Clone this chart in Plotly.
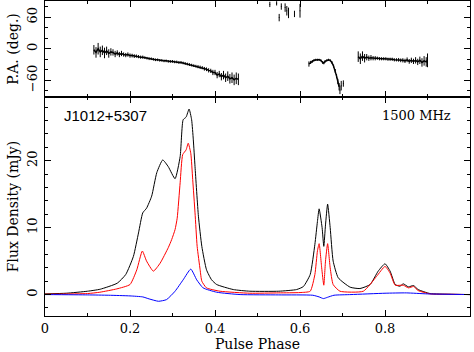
import plotly.graph_objects as go

# ---------------- Flux density profiles (mJy) ----------------
phase_I = [0.0, 0.05, 0.1, 0.13, 0.17, 0.19, 0.208, 0.22, 0.23, 0.239, 0.251, 0.263, 0.277,
           0.29, 0.306, 0.318, 0.325, 0.332, 0.339, 0.345, 0.349, 0.353, 0.361, 0.369, 0.38,
           0.392, 0.404, 0.443, 0.482, 0.55, 0.592, 0.608, 0.624, 0.635, 0.641, 0.645, 0.652,
           0.656, 0.660, 0.665, 0.671, 0.678, 0.69, 0.718, 0.741, 0.765, 0.784, 0.8, 0.812,
           0.824, 0.835, 0.843, 0.855, 0.867, 0.878, 0.906, 0.95, 1.0]
flux_I = [0.1, 0.2, 0.5, 0.8, 1.7, 3.0, 5.7, 9.2, 12.2, 12.9, 14.7, 18.2, 20.1,
          19.1, 17.3, 20.6, 26.1, 26.5, 27.7, 26.1, 23.1, 19.1, 11.7, 7.2, 3.7,
          2.2, 1.5, 0.75, 0.5, 0.5, 0.75, 1.2, 3.0, 7.5, 10.9, 12.8, 10.0,
          7.2, 10.4, 13.5, 10.0, 5.0, 2.5, 1.1, 0.9, 1.5, 3.5, 4.6, 3.5,
          1.5, 1.25, 1.6, 1.15, 1.35, 0.75, 0.15, 0.05, 0.0]

phase_L = [0.0, 0.1, 0.129, 0.169, 0.2, 0.216, 0.229, 0.239, 0.255, 0.271, 0.29, 0.298,
           0.306, 0.311, 0.318, 0.324, 0.332, 0.337, 0.343, 0.3475, 0.353, 0.358, 0.365,
           0.369, 0.38, 0.412, 0.482, 0.55, 0.6, 0.624, 0.635, 0.641, 0.645, 0.651, 0.656,
           0.660, 0.665, 0.671, 0.678, 0.694, 0.749, 0.78, 0.8, 0.812, 0.824, 0.843, 0.855,
           0.867, 0.878, 0.906, 0.95, 1.0]
flux_L = [0.05, 0.15, 0.35, 0.85, 1.5, 3.7, 6.5, 5.0, 3.5, 4.7, 7.0, 8.2,
          9.7, 11.4, 16.7, 20.9, 21.6, 22.6, 21.1, 17.2, 12.2, 7.2, 3.7,
          2.0, 1.0, 0.5, 0.2, 0.25, 0.3, 0.5, 3.0, 6.5, 7.6, 4.0, 1.4,
          5.0, 7.6, 4.0, 1.5, 0.5, 0.5, 2.7, 4.2, 3.2, 1.4, 1.4, 1.0,
          1.2, 0.6, 0.1, 0.05, 0.0]

phase_V = [0.0, 0.1, 0.15, 0.2, 0.23, 0.245, 0.267, 0.286, 0.306, 0.325, 0.343, 0.357,
           0.372, 0.404, 0.459, 0.55, 0.63, 0.645, 0.655, 0.665, 0.68, 0.72, 0.8, 0.85,
           0.9, 1.0]
flux_V = [0.0, -0.05, -0.1, -0.2, -0.35, -0.65, -1.0, -0.75, 0.5, 2.2, 3.8, 2.2,
          1.0, 0.35, 0.0, -0.05, -0.1, -0.35, -0.6, -0.4, -0.1, 0.0, 0.2, 0.25,
          0.1, 0.0]

# ---------------- Position angle (deg) ----------------
pa_phase_1 = [0.115, 0.12, 0.125, 0.13, 0.135, 0.14, 0.145, 0.15, 0.155, 0.16, 0.165, 0.17,
              0.175, 0.18, 0.185, 0.19, 0.195, 0.2, 0.205, 0.21, 0.215, 0.22, 0.225, 0.23,
              0.235, 0.24, 0.245, 0.25, 0.255, 0.26, 0.265, 0.27, 0.275, 0.28, 0.285, 0.29,
              0.295, 0.3, 0.305, 0.31, 0.315, 0.32, 0.325, 0.33, 0.335, 0.34, 0.345, 0.35,
              0.355, 0.36, 0.365, 0.37, 0.375, 0.38, 0.385, 0.39, 0.395, 0.4, 0.405, 0.41,
              0.415, 0.42, 0.425, 0.43, 0.435, 0.44, 0.445, 0.45, 0.455]
pa_val_1 = [-2, -7, 0, -6, -3, -8, -4, -9, -6, -7, -10, -8,
            -11, -9, -11, -12, -11, -13, -13, -14, -14, -15, -16, -16,
            -17, -18, -19, -19, -20, -21, -21, -22, -22, -23, -23, -24,
            -24, -24, -25, -25, -26, -26, -27, -28, -29, -30, -31, -32,
            -33, -34, -35, -36, -38, -39, -41, -42, -45, -45, -50, -48,
            -53, -50, -55, -52, -57, -55, -59, -56, -58]
pa_err_1 = [9, 10, 11, 10, 9, 10, 8, 8, 7, 6, 6, 5,
            5, 5, 4, 4, 4, 4, 3.5, 3.5, 3, 3, 3, 3,
            2.5, 2.5, 2.5, 2.5, 2.5, 2.5, 2.5, 2.5, 2.5, 2.5, 2.5, 2.5,
            2.5, 2.5, 2.5, 2.5, 2.5, 2.5, 2.5, 2.5, 2.5, 2.5, 2.5, 2.5,
            2.5, 3, 3, 3, 3.5, 3.5, 4, 4, 5, 5, 6, 6,
            7, 8, 8, 9, 9, 10, 10, 11, 11]

pa_phase_2 = [0.529, 0.545, 0.551, 0.556, 0.565, 0.569, 0.573, 0.587, 0.6]
pa_val_2 = [84, 86, 59, 80, 78, 72, 68, 66, 72]
pa_err_2 = [5, 4, 7, 6, 8, 9, 10, 6, 13]

pa_phase_3 = [0.621, 0.625, 0.629, 0.633, 0.637, 0.641, 0.645, 0.649, 0.653, 0.656,
              0.659, 0.663, 0.667, 0.671, 0.675, 0.679, 0.683, 0.686, 0.689, 0.692]
pa_val_3 = [-29, -26, -24, -22, -21, -21, -21, -22, -26, -27,
            -24, -22, -21, -22, -26, -33, -42, -52, -62, -72]
pa_err_3 = [5, 3, 2.5, 2, 2, 2, 2, 2, 2.5, 2.5,
            2.5, 2, 2, 2, 2.5, 3, 3.5, 4, 5, 7]

pa_phase_3b = [0.694, 0.697, 0.702]
pa_val_3b = [-78, -70, -66]
pa_err_3b = [8, 9, 6]

pa_phase_4 = [0.737, 0.742, 0.747, 0.752, 0.757, 0.762, 0.767, 0.772, 0.777, 0.782, 0.787,
              0.792, 0.797, 0.802, 0.807, 0.812, 0.817, 0.822, 0.827, 0.832, 0.837, 0.842,
              0.847, 0.852, 0.857, 0.862, 0.867, 0.872, 0.877, 0.882, 0.887, 0.892, 0.897,
              0.9]
pa_val_4 = [-15, -19, -14, -18, -16, -18, -17, -18, -18, -18, -19,
            -19, -19, -19, -20, -20, -20, -21, -21, -21, -22, -22,
            -23, -21, -24, -22, -24, -22, -25, -22, -26, -23, -25,
            -22]
pa_err_4 = [10, 10, 9, 8, 6, 5, 5, 4, 4, 3, 3,
            3, 3, 3, 3, 3, 3, 3, 3, 3.5, 3.5, 4,
            4, 4.5, 4.5, 5, 5, 6, 6, 7, 8, 9, 9,
            13]

x_ticks = [0, 0.2, 0.4, 0.6, 0.8, 1]
x_tick_text = ["0", "0.2", "0.4", "0.6", "0.8", "1"]
flux_ticks = [0, 10, 20]
pa_ticks = [-60, 0, 60]

SERIF = "DejaVu Serif"

fig = go.Figure()

fig.add_trace(go.Scatter(x=phase_I, y=flux_I, mode="lines", line=dict(color="black", width=1, shape="spline", smoothing=0.5),
                         xaxis="x", yaxis="y", showlegend=False))
fig.add_trace(go.Scatter(x=phase_L, y=flux_L, mode="lines", line=dict(color="red", width=1, shape="spline", smoothing=0.5),
                         xaxis="x", yaxis="y", showlegend=False))
fig.add_trace(go.Scatter(x=phase_V, y=flux_V, mode="lines", line=dict(color="blue", width=1, shape="spline", smoothing=0.5),
                         xaxis="x", yaxis="y", showlegend=False))

def pa_trace(px, pv, pe, connect=True):
    return go.Scatter(
        x=px, y=pv,
        mode="lines" if connect else "markers",
        line=dict(color="black", width=1.5),
        marker=dict(size=1, color="black"),
        error_y=dict(type="data", array=pe, visible=True, color="black", thickness=1, width=0),
        xaxis="x2", yaxis="y2", showlegend=False)

fig.add_trace(pa_trace(pa_phase_1, pa_val_1, pa_err_1))
fig.add_trace(pa_trace(pa_phase_2, pa_val_2, pa_err_2, connect=False))
fig.add_trace(pa_trace(pa_phase_3, pa_val_3, pa_err_3))
fig.add_trace(pa_trace(pa_phase_3b, pa_val_3b, pa_err_3b, connect=False))
fig.add_trace(pa_trace(pa_phase_4, pa_val_4, pa_err_4))

split = (316 - 97) / 315
axis_common = dict(showline=True, linecolor="black", linewidth=1, mirror="allticks",
                   ticks="inside", tickcolor="black", showgrid=False, zeroline=False,
                   automargin=False,
                   tickfont=dict(family=SERIF, size=13, color="black"))
title_font = dict(family=SERIF, size=14, color="black")

fig.update_layout(
    width=474, height=352,
    margin=dict(l=45, r=4, t=1, b=36, autoexpand=False),
    paper_bgcolor="white", plot_bgcolor="white",
    xaxis=dict(axis_common, domain=[0, 1], range=[0, 1], anchor="y",
               tickvals=x_ticks, ticktext=x_tick_text, ticklen=6,
               minor=dict(dtick=0.1, ticklen=3, ticks="inside", tickcolor="black"),
               title=dict(text="Pulse Phase", font=title_font, standoff=2)),
    yaxis=dict(axis_common, domain=[0, split], range=[-3.2, 29.5], anchor="x",
               tickvals=flux_ticks, ticklen=6, tickangle=-90, ticklabelstandoff=2,
               minor=dict(dtick=2, ticklen=3, ticks="inside", tickcolor="black"),
               title=dict(text="Flux Density (mJy)", font=title_font, standoff=2)),
    xaxis2=dict(axis_common, domain=[0, 1], range=[0, 1], anchor="y2", matches="x",
                tickvals=x_ticks, ticklen=6, showticklabels=False,
                minor=dict(dtick=0.1, ticklen=3, ticks="inside", tickcolor="black")),
    yaxis2=dict(axis_common, domain=[split, 1], range=[-91.5, 90.5], anchor="x2",
                tickvals=pa_ticks, ticklen=6, tickangle=-90, ticklabelstandoff=2,
                minor=dict(dtick=20, ticklen=3, ticks="inside", tickcolor="black"),
                title=dict(text="P.A. (deg.)", font=title_font, standoff=2)),
    annotations=[
        dict(text="J1012+5307", x=(62 - 45) / 425, y=(316 - 115) / 315, xref="paper", yref="paper",
             xanchor="left", yanchor="middle", showarrow=False,
             font=dict(family="Liberation Sans", size=15, color="black")),
        dict(text="1500 MHz", x=(453 - 45) / 425, y=(316 - 115) / 315, xref="paper", yref="paper",
             xanchor="right", yanchor="middle", showarrow=False,
             font=dict(family=SERIF, size=13, color="black")),
    ],
)

fig.write_html("out.html", config={"displayModeBar": False},
               post_script="document.body.style.margin='0';document.body.style.overflow='hidden';")
